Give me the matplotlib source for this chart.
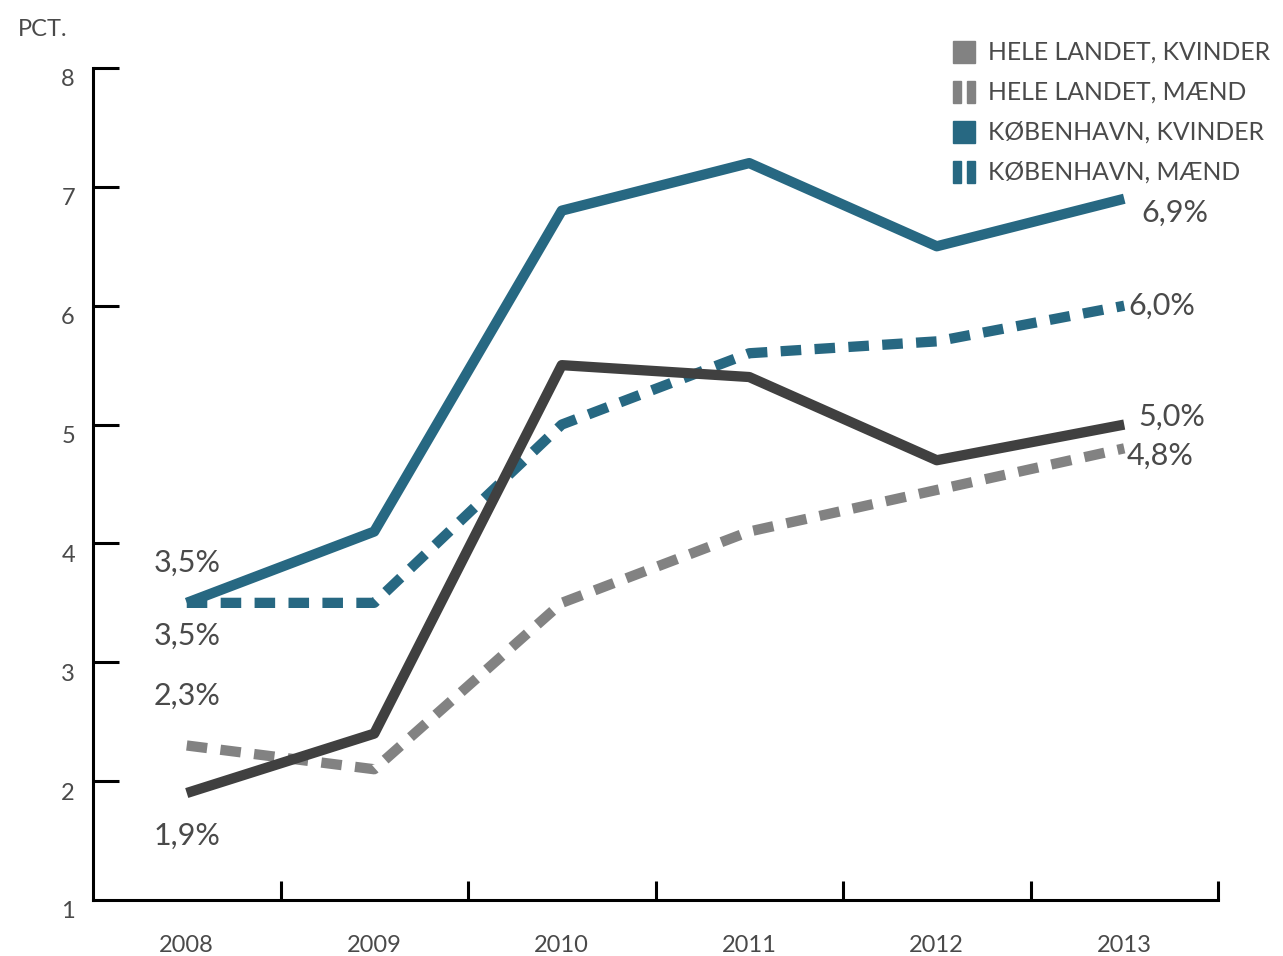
import matplotlib.pyplot as plt
import matplotlib.transforms as mtransforms
from matplotlib.patches import Rectangle

years = [2008, 2009, 2010, 2011, 2012, 2013]
kbh_kvinder = [3.5, 4.1, 6.8, 7.2, 6.5, 6.9]
kbh_maend = [3.5, 3.5, 5.0, 5.6, 5.7, 6.0]
hele_kvinder = [1.9, 2.4, 5.5, 5.4, 4.7, 5.0]
hele_maend = [2.3, 2.1, 3.5, 4.1, 4.45, 4.8]

legend_labels = ["HELE LANDET, KVINDER", "HELE LANDET, MÆND",
                 "KØBENHAVN, KVINDER", "KØBENHAVN, MÆND"]

BLUE = "#276882"
DARK = "#404040"
GRAY = "#828282"
TXT = "#4a4a4a"

plt.rcParams['font.family'] = ['Lato', 'DejaVu Sans']

W, H = 1283, 956
fig = plt.figure(figsize=(W / 100, H / 100), dpi=100)
ax = fig.add_axes([93 / W, 56 / H, (1218 - 93) / W, (900 - 68) / H])

lw = 7.4
dash = (2.0, 1.3)
ax.plot(years, hele_maend, color=GRAY, lw=lw, ls=(0, dash), solid_capstyle='butt',
        dash_capstyle='butt', zorder=2)
ax.plot(years, kbh_maend, color=BLUE, lw=lw, ls=(0, dash), solid_capstyle='butt',
        dash_capstyle='butt', zorder=2)
ax.plot(years, hele_kvinder, color=DARK, lw=lw, solid_capstyle='butt', zorder=3)
ax.plot(years, kbh_kvinder, color=BLUE, lw=lw, solid_capstyle='butt', zorder=3)

ax.set_xlim(2007.5, 2013.5)
ax.set_ylim(1, 8)

for s in ['top', 'right']:
    ax.spines[s].set_visible(False)
for s in ['left', 'bottom']:
    ax.spines[s].set_linewidth(2.2)
    ax.spines[s].set_color('black')

# y ticks point into the plot, labels sit slightly below each tick
ax.set_yticks(range(1, 9))
ax.tick_params(axis='y', direction='in', length=19, width=2.2, labelsize=17,
               labelcolor=TXT, pad=13)
ax.yaxis.get_major_ticks()[0].tick1line.set_visible(False)
shift = mtransforms.ScaledTranslation(0, -10 / 100, fig.dpi_scale_trans)
for lab in ax.get_yticklabels():
    lab.set_transform(lab.get_transform() + shift)

# x ticks sit between the years, labels on the years
ax.set_xticks([2008.5, 2009.5, 2010.5, 2011.5, 2012.5, 2013.5])
ax.set_xticks(years, minor=True)
ax.set_xticklabels(years, minor=True)
ax.set_xticklabels([])
ax.tick_params(axis='x', which='major', direction='in', length=14, width=2.2)
ax.tick_params(axis='x', which='minor', length=0, labelsize=17, labelcolor=TXT, pad=25)

fig.text(18 / W, 1 - 30 / H, "PCT.", fontsize=17, color=TXT, va='center', ha='left')

# value labels at both ends of each series
end_labels = [
    (kbh_kvinder, 0, (0, 40), 'center', "3,5%"),
    (kbh_maend, 0, (0, -33), 'center', "3,5%"),
    (hele_maend, 0, (0, 50), 'center', "2,3%"),
    (hele_kvinder, 0, (0, -43), 'center', "1,9%"),
    (kbh_kvinder, 5, (17, -14), 'left', "6,9%"),
    (kbh_maend, 5, (4, 0), 'left', "6,0%"),
    (hele_kvinder, 5, (14, 8), 'left', "5,0%"),
    (hele_maend, 5, (2, -7), 'left', "4,8%"),
]
for series, i, off, ha, txt in end_labels:
    ax.annotate(txt, (years[i], series[i]), xytext=off, textcoords='offset pixels',
                ha=ha, va='center', fontsize=22, color=TXT)

# legend drawn by hand: solid square or two bars for dashed series
leg_colors = [GRAY, GRAY, BLUE, BLUE]
leg_dashed = [False, True, False, True]
for k, (lab, col, dashed) in enumerate(zip(legend_labels, leg_colors, leg_dashed)):
    yc = 52 + k * 40
    if dashed:
        for x0 in (953, 967):
            fig.add_artist(Rectangle((x0 / W, 1 - (yc + 11) / H), 8 / W, 22 / H,
                                     color=col, transform=fig.transFigure))
    else:
        fig.add_artist(Rectangle((953 / W, 1 - (yc + 11) / H), 22 / W, 22 / H,
                                 color=col, transform=fig.transFigure))
    fig.text(988 / W, 1 - yc / H, lab, fontsize=17.8, color=TXT, va='center', ha='left')

fig.savefig("out.png", dpi=100)
